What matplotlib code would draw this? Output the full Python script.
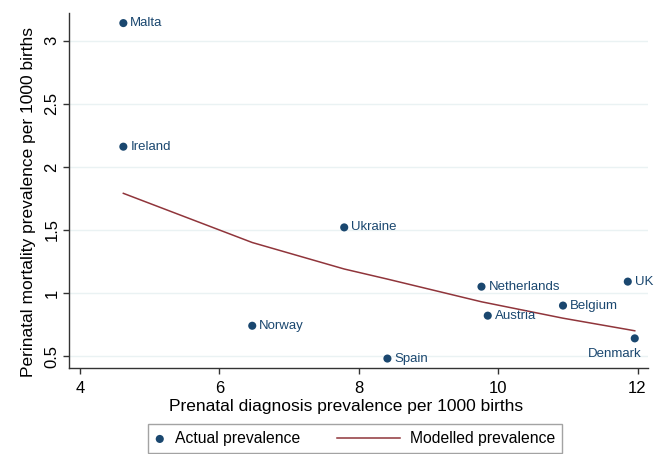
import matplotlib

matplotlib.use("Agg")
import matplotlib.pyplot as plt
from matplotlib.legend_handler import HandlerLine2D

plt.rcParams["font.family"] = ["Liberation Sans", "DejaVu Sans"]

# observed prevalence per country
countries = ["Malta", "Ireland", "Ukraine", "Norway", "Spain",
             "Netherlands", "Austria", "Belgium", "UK", "Denmark"]
prenatal = [4.62, 4.62, 7.79, 6.47, 8.41, 9.76, 9.85, 10.93, 11.86, 11.96]
perinatal = [3.14, 2.16, 1.52, 0.74, 0.48, 1.05, 0.82, 0.90, 1.09, 0.64]

# modelled prevalence (fitted values at each country's x)
model_x = [4.62, 6.47, 7.79, 8.41, 9.76, 9.85, 10.93, 11.86, 11.96]
model_y = [1.79, 1.40, 1.19, 1.11, 0.93, 0.92, 0.80, 0.71, 0.70]

x_ticks = [4, 6, 8, 10, 12]
y_ticks = [0.5, 1, 1.5, 2, 2.5, 3]
y_tick_labels = ["0.5", "1", "1.5", "2", "2.5", "3"]

NAVY = "#1a476f"
MAROON = "#90353b"


class LongLineHandler(HandlerLine2D):
    # line key drawn wider than the handle box (to the left)
    def create_artists(self, legend, orig_handle, xdescent, ydescent,
                       width, height, fontsize, trans):
        extra = 3.4 * fontsize
        return super().create_artists(legend, orig_handle, xdescent + extra, ydescent,
                                      width + extra, height, fontsize, trans)


fig = plt.figure(figsize=(6.65, 4.54), dpi=100)
ax = fig.add_axes([69 / 665, 1 - 368 / 454, (648 - 69) / 665, (368 - 13) / 454])

ax.set_xlim(3.84, 12.15)
ax.set_ylim(0.405, 3.22)
for y in y_ticks:
    ax.axhline(y, color="#eaf2f3", linewidth=1.0, zorder=0)

line, = ax.plot(model_x, model_y, color=MAROON, linewidth=1.1, label="Modelled prevalence", zorder=2)
pts = ax.scatter(prenatal, perinatal, s=34, color=NAVY, label="Actual prevalence", zorder=3,
                 edgecolors="none")

for name, x, y in zip(countries, prenatal, perinatal):
    if name == "Denmark":
        ax.annotate(name, (x, y), xytext=(7, -16), textcoords="offset pixels",
                    ha="right", va="center", fontsize=9.5, color=NAVY, annotation_clip=False)
    else:
        ax.annotate(name, (x, y), xytext=(7, 0), textcoords="offset pixels",
                    ha="left", va="center", fontsize=9.5, color=NAVY, annotation_clip=False)

ax.set_xticks(x_ticks)
ax.set_yticks(y_ticks)
ax.set_yticklabels(y_tick_labels, rotation=90, va="center")
ax.tick_params(axis="both", direction="out", length=4.5, width=1, colors="#333333",
               labelsize=12, labelcolor="black")
ax.tick_params(axis="x", pad=5)
ax.tick_params(axis="y", pad=2.5)
for side in ["top", "right"]:
    ax.spines[side].set_visible(False)
for side in ["left", "bottom"]:
    ax.spines[side].set_color("#333333")
    ax.spines[side].set_linewidth(1)

ax.set_xlabel("Prenatal diagnosis prevalence per 1000 births", fontsize=12.5)
ax.set_ylabel("Perinatal mortality prevalence per 1000 births", fontsize=12.5)
ax.xaxis.set_label_coords((346 - 69) / 579, (368 - 399) / 355)
ax.yaxis.set_label_coords((36 - 69) / 579, (368 - 202) / 355)

leg = fig.legend([pts, line], ["Actual prevalence", "Modelled prevalence"],
                 loc="upper left", bbox_to_anchor=(148 / 665, 1 - 424 / 454),
                 bbox_transform=fig.transFigure, borderaxespad=0, ncol=2,
                 fontsize=11.3, frameon=True, fancybox=False, edgecolor="#8c8c8c",
                 handlelength=0.6, handletextpad=0.65, columnspacing=5.75,
                 borderpad=0.45, scatterpoints=1,
                 handler_map={line: LongLineHandler()})
leg.get_frame().set_linewidth(1.0)

fig.savefig("out.png", dpi=100)
